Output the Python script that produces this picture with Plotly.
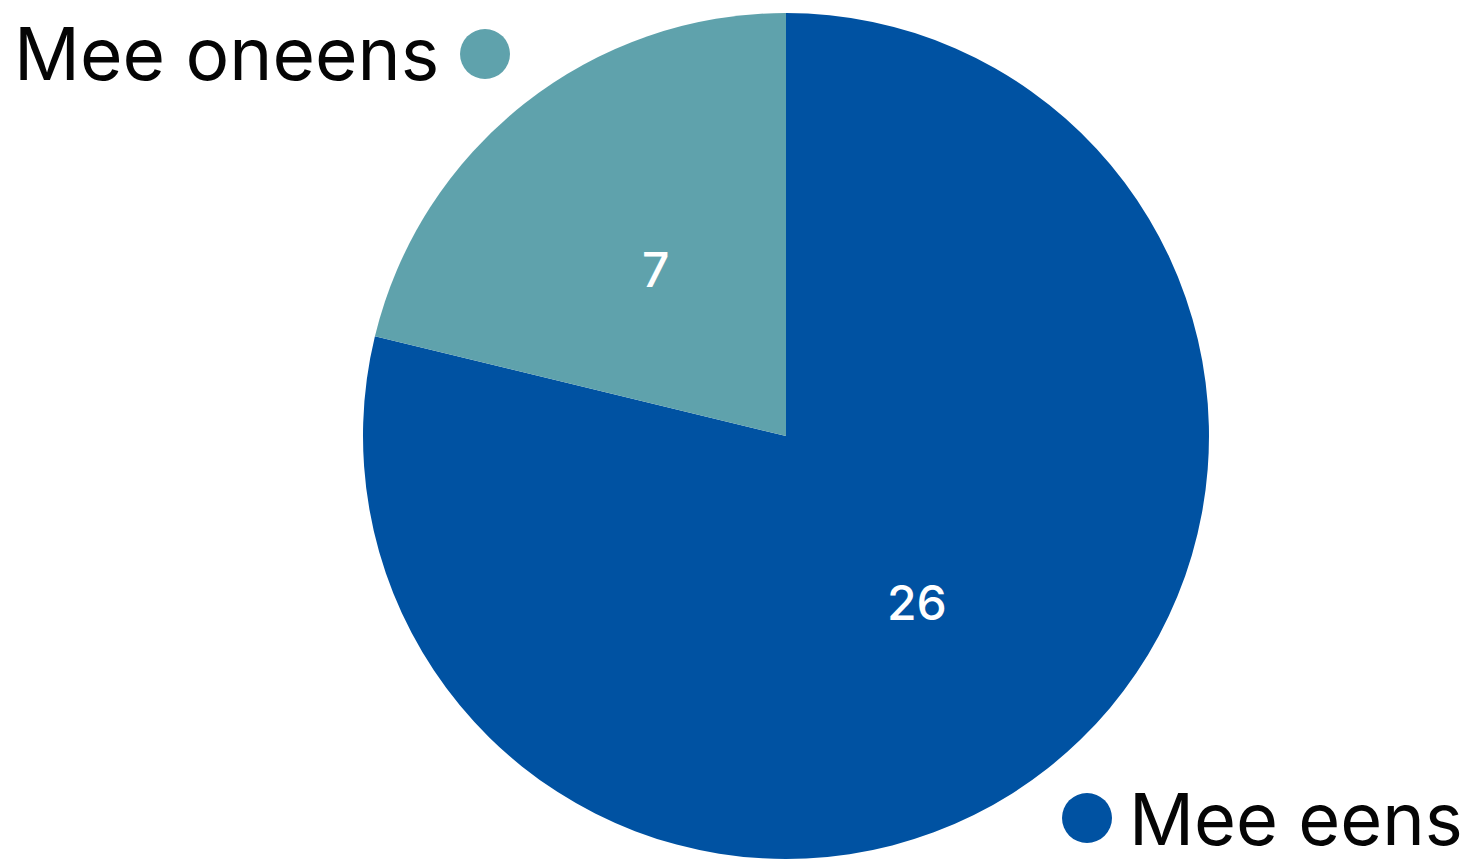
import math
import plotly.graph_objects as go

labels = ["Mee eens", "Mee oneens"]
values = [26, 7]
colors = ["#0052A2", "#5FA2AC"]

W, H = 1469, 865
cx, cy, R = 786, 436, 423

fig = go.Figure(go.Pie(
    labels=labels,
    values=values,
    sort=False,
    direction="clockwise",
    rotation=0,
    marker=dict(colors=colors, line=dict(width=0)),
    textinfo="none",
    domain=dict(x=[(cx - R) / W, (cx + R) / W], y=[(H - cy - R) / H, (H - cy + R) / H]),
    showlegend=False,
    hoverinfo="label+value",
))

shapes = []
annotations = []

# value labels inside slices at half radius along each slice's mid-angle
total = sum(values)
start = 0.0
for lab, v in zip(labels, values):
    mid = start + v / total * 180.0  # degrees clockwise from top
    start += v / total * 360.0
    ang = math.radians(mid)
    px = cx + 0.5 * R * math.sin(ang)
    py = cy - 0.5 * R * math.cos(ang)
    annotations.append(dict(text=str(v), xref="paper", yref="paper", x=px / W, y=1 - py / H,
                            xanchor="center", yanchor="middle", showarrow=False,
                            font=dict(family="Inter", size=48, color="white", weight=500)))

# legend-like labels
leg = [
    dict(text=labels[1], color=colors[1], dot_x=485, dot_y=54, side="left"),
    dict(text=labels[0], color=colors[0], dot_x=1087, dot_y=818, side="right"),
]
for item in leg:
    px = item["dot_x"] / W
    py = 1 - item["dot_y"] / H
    shapes.append(dict(type="circle", xref="paper", yref="paper", xsizemode="pixel", ysizemode="pixel",
                       xanchor=px, yanchor=py, x0=-25, x1=25, y0=-25, y1=25,
                       fillcolor=item["color"], line=dict(width=0)))
    if item["side"] == "left":
        annotations.append(dict(text=item["text"], xref="paper", yref="paper", x=(item["dot_x"] - 44) / W, y=py,
                                xanchor="right", yanchor="middle", showarrow=False,
                                font=dict(family="Inter", size=73, color="#050505")))
    else:
        annotations.append(dict(text=item["text"], xref="paper", yref="paper", x=(item["dot_x"] + 40) / W, y=py,
                                xanchor="left", yanchor="middle", showarrow=False,
                                font=dict(family="Inter", size=72, color="#050505")))

fig.update_layout(
    width=W, height=H,
    margin=dict(l=0, r=0, t=0, b=0),
    paper_bgcolor="white",
    plot_bgcolor="white",
    shapes=shapes,
    annotations=annotations,
)

fig.write_html("out.html", config=dict(displayModeBar=False),
               post_script="document.body.style.margin='0';document.body.style.overflow='hidden';")
